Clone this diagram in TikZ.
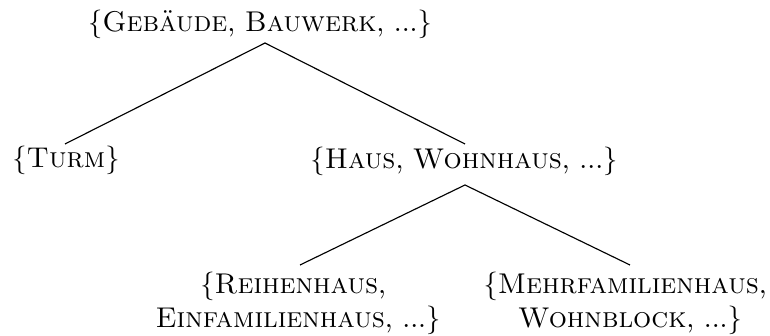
\documentclass[tikz,border=0pt]{standalone}
\begin{document}
\begin{tikzpicture}[x=0.35pt,y=-0.35pt,
  lbl/.style={align=center, inner sep=0pt},
  branch/.style={draw, line width=0.4pt}]
\useasboundingbox (0,0) rectangle (770,336);
% tree nodes
\node[lbl, anchor=base] (root) at (260,32) {\{\textsc{Gebäude}, \textsc{Bauwerk}, ...\}};
\node[lbl, anchor=base] (turm) at (66,168) {\{\textsc{Turm}\}};
\node[lbl, anchor=base] (haus) at (464,169) {\{\textsc{Haus}, \textsc{Wohnhaus}, ...\}};
\node[lbl, anchor=north] (reihe) at (298,271.5) {\{\textsc{Reihenhaus},\kern0.333em\\ \textsc{Einfamilienhaus}, ...\}};
\node[lbl, anchor=north] (mehr) at (630,271.5) {\{\textsc{Mehrfamilienhaus},\kern0.333em\\ \textsc{Wohnblock}, ...\}};
% branch end points
\coordinate (r0) at (265,43);
\coordinate (h0) at (465,185);
\coordinate (t1) at (65,144);
\coordinate (h1) at (465,144);
\coordinate (re1) at (300,265);
\coordinate (me1) at (630,265);
\draw[branch] (t1) -- (r0) -- (h1);
\draw[branch] (re1) -- (h0) -- (me1);
\end{tikzpicture}
\end{document}
